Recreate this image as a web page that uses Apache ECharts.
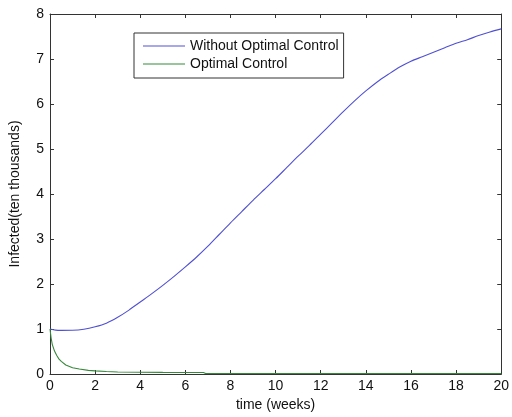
<!DOCTYPE html>
<html>
<head>
<meta charset="utf-8">
<script src="https://cdn.jsdelivr.net/npm/echarts@6/dist/echarts.min.js"></script>
<style>
  html, body { margin: 0; padding: 0; background: #fff; }
  #chart { width: 512px; height: 417px; }
</style>
</head>
<body>
<div id="chart"></div>
<script>
// Time samples (weeks) and infected counts (ten thousands)
const timeNoControl = [0, 0.25, 0.5, 1, 1.5, 2, 2.5, 3, 3.5, 4, 4.5, 5, 5.5, 6, 6.5, 7, 7.5, 8, 8.5, 9, 9.5, 10,
  10.5, 11, 11.5, 12, 12.5, 13, 13.5, 14, 14.5, 15, 15.5, 16, 16.5, 17, 17.5, 18, 18.5, 19, 19.5, 20];
const infectedNoControl = [1.0, 0.975, 0.97, 0.972, 0.995, 1.05, 1.13, 1.26, 1.42, 1.6, 1.78, 1.97, 2.17, 2.38, 2.6, 2.84,
  3.1, 3.36, 3.61, 3.86, 4.1, 4.34, 4.59, 4.84, 5.08, 5.33, 5.58, 5.83, 6.07, 6.29, 6.49, 6.66, 6.82, 6.95, 7.05,
  7.15, 7.25, 7.35, 7.43, 7.52, 7.6, 7.67];

const timeControl = [0, 0.05, 0.1, 0.2, 0.3, 0.4, 0.5, 0.7, 1.0, 1.3, 1.7, 2.0, 2.5, 3.0, 4.0, 5.0, 6.0, 6.8, 6.9, 8, 10, 12, 14, 16, 18, 20];
const infectedControl = [1.0, 0.8, 0.66, 0.51, 0.41, 0.33, 0.28, 0.2, 0.14, 0.11, 0.08, 0.07, 0.055, 0.045, 0.038, 0.036,
  0.035, 0.035, 0.012, 0.01, 0.01, 0.01, 0.01, 0.01, 0.01, 0.01];

const seriesNames = ['Without Optimal Control', 'Optimal Control'];
const seriesColors = ['#5050d4', '#35893a'];

const xTicks = { min: 0, max: 20, interval: 2 };
const yTicks = { min: 0, max: 8, interval: 1 };

const zip = (xs, ys) => xs.map((x, i) => [x, ys[i]]);

const font = 'Liberation Sans, Arial, Helvetica, sans-serif';
const axisColor = '#333';

const chart = echarts.init(document.getElementById('chart'), null, { renderer: 'canvas' });

const baseAxis = {
  axisLine: { show: true, onZero: false, lineStyle: { color: axisColor, width: 1 } },
  axisTick: { show: true, inside: true, length: 4, lineStyle: { color: axisColor } },
  splitLine: { show: false }
};

chart.setOption({
  backgroundColor: '#fff',
  animation: false,
  grid: { left: 48, right: 8, top: 14, bottom: 42, containLabel: false },
  legend: {
    orient: 'vertical',
    left: 134,
    top: 33,
    padding: [5, 5, 6, 9],
    icon: 'rect',
    itemWidth: 42,
    itemHeight: 1,
    itemGap: 2,
    borderColor: '#333',
    borderWidth: 1,
    backgroundColor: '#fff',
    textStyle: { fontFamily: font, fontSize: 14, color: '#111', lineHeight: 16 },
    data: seriesNames.map((name, i) => ({ name, itemStyle: { color: seriesColors[i] } }))
  },
  xAxis: [
    Object.assign({}, baseAxis, {
      type: 'value', position: 'bottom', ...xTicks,
      name: 'time (weeks)', nameLocation: 'middle', nameGap: 24,
      nameTextStyle: { fontFamily: font, fontSize: 14, color: '#111' },
      axisLabel: { fontFamily: font, fontSize: 14, color: '#111', margin: 5 }
    }),
    Object.assign({}, baseAxis, {
      type: 'value', position: 'top', ...xTicks,
      axisLabel: { show: false }
    })
  ],
  yAxis: [
    Object.assign({}, baseAxis, {
      type: 'value', position: 'left', ...yTicks,
      name: 'Infected(ten thousands)', nameLocation: 'middle', nameGap: 28,
      nameTextStyle: { fontFamily: font, fontSize: 14, color: '#111' },
      axisLabel: { fontFamily: font, fontSize: 14, color: '#111', margin: 6 }
    }),
    Object.assign({}, baseAxis, {
      type: 'value', position: 'right', ...yTicks,
      axisLabel: { show: false }
    })
  ],
  series: [
    {
      name: seriesNames[0], type: 'line', xAxisIndex: 0, yAxisIndex: 0,
      data: zip(timeNoControl, infectedNoControl),
      smooth: 0.3, symbol: 'none',
      lineStyle: { color: seriesColors[0], width: 1.1 },
      itemStyle: { color: seriesColors[0] }
    },
    {
      name: seriesNames[1], type: 'line', xAxisIndex: 0, yAxisIndex: 0,
      data: zip(timeControl, infectedControl),
      smooth: false, symbol: 'none',
      lineStyle: { color: seriesColors[1], width: 1.1 },
      itemStyle: { color: seriesColors[1] }
    }
  ]
});
</script>
</body>
</html>
